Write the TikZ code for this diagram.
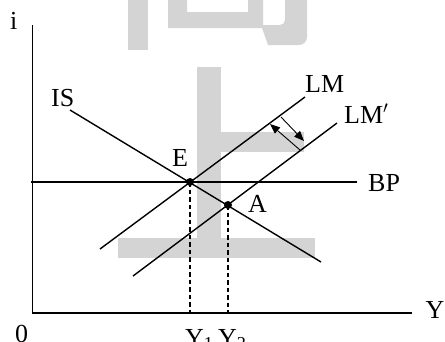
\documentclass[tikz,border=0pt]{standalone}
\usepackage{fontspec}
\setmainfont{Liberation Serif}
\usetikzlibrary{arrows.meta}
\definecolor{wm}{HTML}{D4D4D4}
\begin{document}
\begin{tikzpicture}[x=1pt,y=-1pt,
  curve/.style={line width=1.4pt},
  axisline/.style={line width=1.4pt},
  guide/.style={line width=1.2pt,dash pattern=on 4.5pt off 3pt},
  shiftarrow/.style={line width=0.9pt,-{Triangle[length=10pt,width=8pt]}},
  lbl/.style={inner sep=0pt,anchor=base west,font=\fontsize{26}{30}\selectfont},
  dot/.style={circle,fill=black,inner sep=0pt,minimum size=8pt}]
\useasboundingbox (0,0) rectangle (445,341);
% watermark
\fill[wm] (128,0) rectangle (148,50);
\fill[wm] (168,0) -- (168,28) -- (262,28) -- (268,45) -- (299,45)
  to[out=0,in=-90] (307,37) -- (307,0) -- (285,0) -- (285,20)
  to[out=-90,in=0] (280,25) -- (263,25) -- (263,0) -- (248,0) -- (248,12)
  -- (187,12) -- (187,0) -- cycle;
\fill[wm] (197,67) rectangle (221,258);
\fill[wm] (221,132) rectangle (304,152);
\fill[wm] (118,238) rectangle (315,258);
% axes
\coordinate (top) at (32.5,25);
\coordinate (O) at (32.5,313);
\coordinate (right) at (412,313);
\draw[axisline] (top) -- (O) -- (right);
% curves
\coordinate (bp1) at (31,182); \coordinate (bp2) at (357,182);
\coordinate (is1) at (70,110); \coordinate (is2) at (321,262);
\coordinate (lm1) at (100,249); \coordinate (lm2) at (305,97);
\coordinate (lmp1) at (133,276); \coordinate (lmp2) at (337,123);
\draw[curve] (bp1) -- (bp2);
\draw[curve] (is1) -- (is2);
\draw[curve] (lm1) -- (lm2);
\draw[curve] (lmp1) -- (lmp2);
% points
\node[dot] (E) at (190,182) {};
\node[dot] (A) at (228,205) {};
\coordinate (y1) at (190,313);
\coordinate (y2) at (228,313);
\draw[guide] (E.center) -- (y1);
\draw[guide] (A.center) -- (y2);
% shift arrows
\coordinate (s1) at (281,117); \coordinate (e1) at (304,141);
\coordinate (s2) at (300,150); \coordinate (e2) at (270,124);
\draw[shiftarrow] (s1) -- (e1);
\draw[shiftarrow] (s2) -- (e2);
% labels
\node[lbl] (li) at (10,29) {i};
\node[lbl] (lis) at (51,106) {IS};
\node[lbl] (le) at (172,166) {E};
\node[lbl] (llm) at (305,92) {LM};
\node[lbl] (llmp) at (344,123) {LM$'$};
\node[lbl] (lbp) at (368,191) {BP};
\node[lbl] (la) at (248,212) {A};
\node[lbl] (ly) at (425.5,318) {Y};
\node[lbl] (l0) at (15,342) {0};
\node[lbl] (ly1) at (185,346) {Y\textsubscript{1}};
\node[lbl] (ly2) at (218,346) {Y\textsubscript{2}};
\end{tikzpicture}
\end{document}
